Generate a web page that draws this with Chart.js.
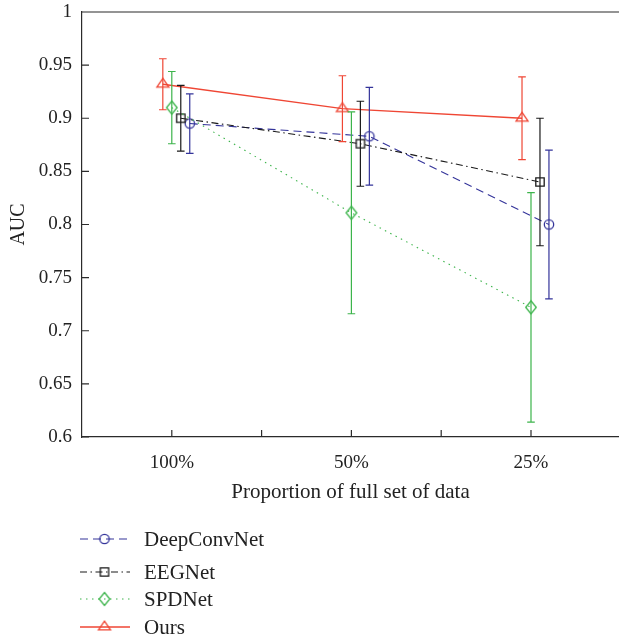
<!DOCTYPE html>
<html>
<head>
<meta charset="utf-8">
<script src="https://cdn.jsdelivr.net/npm/chart.js@4.4.1/dist/chart.umd.min.js"></script>
<style>
  html, body { margin: 0; padding: 0; background: #fff; overflow: hidden; }
</style>
</head>
<body>
<canvas id="aucChart" width="619" height="640"></canvas>
<script>
// categories on the x axis
var categories = ['100%', '50%', '25%'];

// AUC means and error half-widths
var deepConvNet = [0.895, 0.883, 0.800];
var deepConvNetErr = [0.028, 0.046, 0.070];
var eegNet = [0.900, 0.876, 0.840];
var eegNetErr = [0.031, 0.040, 0.060];
var spdNet = [0.910, 0.811, 0.722];
var spdNetErr = [0.034, 0.095, 0.108];
var ours = [0.932, 0.909, 0.900];
var oursErr = [0.024, 0.031, 0.039];

var yTicks = [0.6, 0.65, 0.7, 0.75, 0.8, 0.85, 0.9, 0.95, 1];

var FONT = "'Liberation Serif', 'Times New Roman', serif";
var AXIS_COLOR = '#2b2b2b';

// small hollow markers drawn on their own canvas
function makeMarker(shape, color) {
  var c = document.createElement('canvas');
  c.width = 18; c.height = 18;
  var g = c.getContext('2d');
  g.strokeStyle = color;
  g.lineWidth = 1.3;
  g.beginPath();
  if (shape === 'circle') {
    g.arc(9, 9, 4.7, 0, Math.PI * 2);
  } else if (shape === 'square') {
    g.rect(4.8, 4.8, 8.4, 8.4);
  } else if (shape === 'diamond') {
    g.moveTo(9, 2.5); g.lineTo(14.3, 9); g.lineTo(9, 15.5); g.lineTo(3.7, 9); g.closePath();
  } else if (shape === 'triangle') {
    g.moveTo(9, 3.2); g.lineTo(15, 11.9); g.lineTo(3, 11.9); g.closePath();
  }
  g.stroke();
  return c;
}

function points(values, shift) {
  return values.map(function (v, i) { return { x: i + 1 + shift, y: v }; });
}

var series = [
  { label: 'DeepConvNet', values: deepConvNet, errors: deepConvNetErr, color: '#34349a', dash: [8, 5], shape: 'circle', shift: 0.1 },
  { label: 'EEGNet', values: eegNet, errors: eegNetErr, color: '#1a1a1a', dash: [7, 3.5, 1.5, 3.5], shape: 'square', shift: 0.05 },
  { label: 'SPDNet', values: spdNet, errors: spdNetErr, color: '#3cb44b', dash: [1.5, 4.5], shape: 'diamond', shift: 0 },
  { label: 'Ours', values: ours, errors: oursErr, color: '#ef4634', dash: [], shape: 'triangle', shift: -0.05 }
];

var datasets = series.map(function (s, i) {
  var marker = makeMarker(s.shape, s.color);
  return {
    label: s.label,
    data: points(s.values, s.shift),
    errors: s.errors,
    borderColor: s.color,
    backgroundColor: s.color,
    borderWidth: s.label === 'Ours' ? 1.3 : 1.1,
    borderDash: s.dash,
    pointStyle: marker,
    pointRadius: 6,
    showLine: true,
    order: series.length - i,
    marker: marker
  };
});

// error bars, inward ticks, top frame line and the legend under the plot
var extras = {
  id: 'extras',
  afterDatasetsDraw: function (chart) {
    var ctx = chart.ctx;
    var ys = chart.scales.y;
    ctx.save();
    chart.data.datasets.forEach(function (ds, i) {
      var meta = chart.getDatasetMeta(i);
      ctx.strokeStyle = ds.borderColor;
      ctx.lineWidth = 1.2;
      ctx.setLineDash([]);
      ds.data.forEach(function (p, j) {
        var x = meta.data[j].x;
        var top = ys.getPixelForValue(p.y + ds.errors[j]);
        var bot = ys.getPixelForValue(p.y - ds.errors[j]);
        ctx.beginPath();
        ctx.moveTo(x, top); ctx.lineTo(x, bot);
        ctx.moveTo(x - 3.8, top); ctx.lineTo(x + 3.8, top);
        ctx.moveTo(x - 3.8, bot); ctx.lineTo(x + 3.8, bot);
        ctx.stroke();
      });
    });
    ctx.restore();
  },
  afterDraw: function (chart) {
    var ctx = chart.ctx;
    var a = chart.chartArea;
    var xs = chart.scales.x, ys = chart.scales.y;
    ctx.save();
    ctx.strokeStyle = AXIS_COLOR;
    ctx.lineWidth = 1.2;
    ctx.beginPath();
    ctx.moveTo(a.left, a.top); ctx.lineTo(a.right, a.top);
    xs.ticks.forEach(function (t) {
      var x = xs.getPixelForValue(t.value);
      ctx.moveTo(x, a.bottom); ctx.lineTo(x, a.bottom - 7);
    });
    ys.ticks.forEach(function (t) {
      var y = ys.getPixelForValue(t.value);
      ctx.moveTo(a.left, y); ctx.lineTo(a.left + 7, y);
    });
    ctx.stroke();

    // legend
    var rows = [539, 572, 599, 627];
    ctx.font = '21px ' + FONT;
    ctx.textBaseline = 'middle';
    ctx.textAlign = 'left';
    chart.data.datasets.forEach(function (ds, i) {
      var y = rows[i];
      ctx.strokeStyle = ds.borderColor;
      ctx.lineWidth = ds.borderWidth;
      ctx.setLineDash(ds.borderDash);
      ctx.beginPath();
      ctx.moveTo(80, y); ctx.lineTo(130, y);
      ctx.stroke();
      ctx.setLineDash([]);
      ctx.drawImage(ds.marker, 104.5 - 9, y - 9);
      ctx.fillStyle = '#222';
      ctx.fillText(ds.label, 144, y + 1);
    });
    ctx.restore();
  }
};

var ctx = document.getElementById('aucChart').getContext('2d');
var chart = new Chart(ctx, {
  type: 'scatter',
  data: { datasets: datasets },
  options: {
    responsive: false,
    animation: false,
    layout: { autoPadding: false, padding: { top: 12, right: 0, bottom: 130, left: 0 } },
    plugins: { legend: { display: false }, tooltip: { enabled: false } },
    scales: {
      x: {
        type: 'linear',
        min: 0.5,
        max: 3.49,
        grid: { display: false, drawTicks: false },
        border: { display: true, color: AXIS_COLOR, width: 1.2 },
        afterBuildTicks: function (scale) {
          scale.ticks = [1, 1.5, 2, 2.5, 3].map(function (v) { return { value: v }; });
        },
        afterFit: function (scale) {
          scale.height = 73;
          scale.paddingLeft = 0;
          scale.paddingRight = 0;
        },
        ticks: {
          padding: 15,
          color: '#222',
          font: { family: FONT, size: 19 },
          maxRotation: 0,
          callback: function (v) {
            return Number.isInteger(v) ? categories[v - 1] : '';
          }
        },
        title: {
          display: true,
          text: 'Proportion of full set of data',
          color: '#222',
          font: { family: FONT, size: 21 },
          padding: { top: 4, bottom: 5 }
        }
      },
      y: {
        min: 0.6,
        max: 1,
        grid: { display: false, drawTicks: false },
        border: { display: true, color: AXIS_COLOR, width: 1.2 },
        afterBuildTicks: function (scale) {
          scale.ticks = yTicks.map(function (v) { return { value: v }; });
        },
        afterFit: function (scale) {
          scale.width = 82;
          scale.paddingTop = 0;
          scale.paddingBottom = 0;
        },
        ticks: {
          padding: 10,
          color: '#222',
          font: { family: FONT, size: 19 },
          callback: function (v) { return String(parseFloat(v.toFixed(2))); }
        },
        title: {
          display: true,
          text: 'AUC',
          color: '#222',
          font: { family: FONT, size: 20 },
          padding: { top: 7, bottom: 4 }
        }
      }
    }
  },
  plugins: [extras]
});
</script>
</body>
</html>
